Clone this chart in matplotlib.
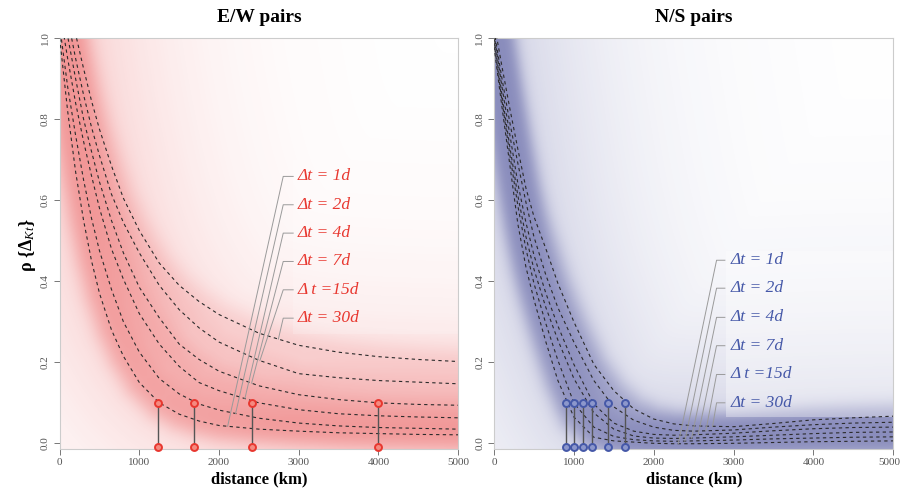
import numpy as np
import matplotlib
matplotlib.use('Agg')
import matplotlib.pyplot as plt
import matplotlib.transforms as mtransforms

plt.rcParams['font.family'] = ['Liberation Serif', 'DejaVu Serif']
plt.rcParams['mathtext.fontset'] = 'custom'
plt.rcParams['mathtext.rm'] = 'Liberation Serif'
plt.rcParams['mathtext.it'] = 'Liberation Serif:italic'
plt.rcParams['mathtext.bf'] = 'Liberation Serif:bold'

# ---- data ----
lags = ['1d', '2d', '4d', '7d', '15d', '30d']
lag_labels = ['Δt = 1d', 'Δt = 2d', 'Δt = 4d', 'Δt = 7d', 'Δ t =15d', 'Δt = 30d']

# E/W pairs
ew_dist = [0, 100, 200, 300, 400, 500, 650, 800, 1000, 1250, 1500, 1750, 2000, 2500, 3000, 3500, 4000, 4500, 5000]
ew_1d = [1.00, 0.82, 0.67, 0.55, 0.45, 0.37, 0.28, 0.215, 0.15, 0.10, 0.072, 0.055, 0.044, 0.035, 0.030, 0.026, 0.024, 0.022, 0.021]
ew_2d = [1.03, 0.88, 0.76, 0.65, 0.555, 0.475, 0.38, 0.30, 0.225, 0.16, 0.122, 0.097, 0.082, 0.062, 0.050, 0.043, 0.039, 0.037, 0.035]
ew_4d = [1.07, 0.95, 0.84, 0.745, 0.66, 0.58, 0.48, 0.405, 0.32, 0.245, 0.19, 0.15, 0.13, 0.10, 0.083, 0.073, 0.068, 0.065, 0.063]
ew_7d = [1.12, 1.005, 0.90, 0.80, 0.72, 0.645, 0.55, 0.47, 0.385, 0.31, 0.245, 0.207, 0.178, 0.142, 0.12, 0.108, 0.100, 0.096, 0.094]
ew_15d = [1.17, 1.05, 0.95, 0.86, 0.78, 0.71, 0.615, 0.545, 0.47, 0.39, 0.33, 0.285, 0.25, 0.205, 0.172, 0.162, 0.155, 0.151, 0.147]
ew_30d = [1.24, 1.11, 1.01, 0.925, 0.845, 0.775, 0.685, 0.605, 0.525, 0.445, 0.39, 0.35, 0.318, 0.272, 0.242, 0.225, 0.214, 0.207, 0.202]
ew_marks = [1230, 1690, 2410, 3990]          # distance where rho drops to 0.1
ew_leader_to = [2108, 2208, 2325, 2409, 2513, 2745]

# N/S pairs
ns_dist = [0, 100, 200, 300, 400, 500, 650, 800, 1000, 1250, 1500, 1750, 2000, 2250, 2500, 3000, 3500, 4000, 4500, 5000]
ns_1d = [0.98, 0.83, 0.685, 0.54, 0.435, 0.355, 0.25, 0.155, 0.065, 0.015, 0.006, 0.003, 0.0, -0.001, -0.001, 0.0, 0.002, 0.004, 0.005, 0.006]
ns_2d = [0.99, 0.845, 0.71, 0.585, 0.48, 0.395, 0.295, 0.205, 0.10, 0.04, 0.017, 0.009, 0.006, 0.005, 0.006, 0.008, 0.011, 0.013, 0.015, 0.016]
ns_4d = [1.00, 0.86, 0.73, 0.61, 0.51, 0.43, 0.335, 0.255, 0.16, 0.075, 0.035, 0.018, 0.013, 0.012, 0.013, 0.016, 0.020, 0.024, 0.027, 0.028]
ns_7d = [1.01, 0.88, 0.76, 0.64, 0.545, 0.465, 0.37, 0.29, 0.195, 0.097, 0.05, 0.03, 0.022, 0.020, 0.021, 0.025, 0.031, 0.036, 0.039, 0.040]
ns_15d = [1.02, 0.90, 0.79, 0.69, 0.595, 0.51, 0.415, 0.335, 0.25, 0.155, 0.09, 0.057, 0.04, 0.032, 0.030, 0.033, 0.040, 0.046, 0.050, 0.052]
ns_30d = [1.04, 0.93, 0.825, 0.725, 0.63, 0.56, 0.48, 0.395, 0.30, 0.195, 0.13, 0.085, 0.06, 0.048, 0.043, 0.041, 0.049, 0.058, 0.063, 0.067]
ns_marks = [901, 1005, 1118, 1231, 1431, 1643]
ns_leader_to = [2307, 2390, 2474, 2557, 2653, 2737]

YMIN, YMAX = -0.0128, 1.0
XMAX = 5000


def shade(ax, dist, curves, weights, rgb, amax, sigma, tail_w, tail_px):
    # soft band around the curves; true distance in screen pixels
    xpx = 398.0 / XMAX
    ypx = 405.0
    gx = np.linspace(0, XMAX, 200)
    gy = np.linspace(YMIN, YMAX, 206)
    GX, GY = np.meshgrid(gx * xpx, gy * ypx)
    pts = np.stack([GX.ravel(), GY.ravel()], axis=1)
    A = np.zeros(len(pts))
    for c, w in zip(curves, weights):
        sx = np.linspace(0, XMAX, 600)
        sy = np.interp(sx, dist, c)
        P = np.stack([sx * xpx, sy * ypx], axis=1)
        dmin = np.full(len(pts), 1e9)
        for k in range(0, len(P), 100):
            seg = P[k:k + 100]
            d2 = ((pts[:, None, :] - seg[None, :, :]) ** 2).sum(-1)
            dmin = np.minimum(dmin, d2.min(1))
        d = np.sqrt(dmin)
        A += w * np.exp(-0.5 * (d / sigma) ** 2) + tail_w * w * np.exp(-d / tail_px)
    A = A.reshape(GX.shape)
    alpha = amax * (1 - np.exp(-A))
    img = np.zeros(A.shape + (4,))
    img[..., 0], img[..., 1], img[..., 2] = rgb
    img[..., 3] = alpha
    ax.imshow(img, extent=[0, XMAX, YMIN, YMAX], origin='lower', aspect='auto',
              interpolation='bilinear', zorder=0)


def panel(ax, dist, curves, marks, leader_to, text_x, stub, label_y,
          col, light, shade_rgb, weights, amax, sigma, tail_w, tail_px, box):
    shade(ax, dist, curves, weights, shade_rgb, amax, sigma, tail_w, tail_px)
    for c in curves:
        ax.plot(dist, c, color='#2b2b2b', lw=0.8, dashes=(3, 3), zorder=3)
    for m in marks:
        ax.plot([m, m], [0.1, -0.01], color='#555555', lw=1.0, zorder=4)
        ax.plot([m, m], [0.1, -0.01], 'o', ms=5, mfc=light, mec=col, mew=1.4,
                zorder=5, clip_on=False)
    ax.add_patch(plt.Rectangle((box[0], box[1]), box[2], box[3], facecolor='white',
                               edgecolor='none', alpha=box[4], zorder=2))
    for lab, ly, tx, c in zip(lag_labels, label_y, leader_to, curves):
        ty = np.interp(tx, dist, c)
        ax.plot([stub[1], stub[0], tx], [ly, ly, ty], color='#9a9a9a', lw=0.7, zorder=3)
        ax.text(text_x, ly, lab, color=col, fontsize=12.5, style='italic',
                va='center', ha='left', zorder=6)
    ax.set_xlim(0, XMAX)
    ax.set_ylim(YMIN, YMAX)
    ax.set_xticks([0, 1000, 2000, 3000, 4000, 5000])
    ax.set_yticks([0, 0.2, 0.4, 0.6, 0.8, 1.0])
    ax.set_yticklabels(['0.0', '0.2', '0.4', '0.6', '0.8', '1.0'], rotation=90, va='center')
    ax.tick_params(colors='#777777', labelcolor='#555555', labelsize=8, length=4,
                   width=0.7, pad=3)
    for s in ax.spines.values():
        s.set_color('#cccccc')
        s.set_linewidth(0.8)


fig = plt.figure(figsize=(9.02, 4.91), dpi=100)
W, H = 902.0, 491.0
axL = fig.add_axes([59.7 / W, 1 - 448.5 / H, 398.3 / W, 410.2 / H])
axR = fig.add_axes([494.0 / W, 1 - 448.5 / H, 399.3 / W, 410.2 / H])

panel(axL, ew_dist, [ew_1d, ew_2d, ew_4d, ew_7d, ew_15d, ew_30d],
      ew_marks, ew_leader_to, 2990, (2806, 2931),
      [0.659, 0.589, 0.519, 0.449, 0.379, 0.309], '#e8372f', '#f58a80',
      (0.90, 0.22, 0.22), [1.0, 0.85, 0.65, 0.5, 0.35, 0.25], 0.55, 11.0, 0.18, 80.0,
      (2930, 0.27, 2070, 0.43, 0.18))
panel(axR, ns_dist, [ns_1d, ns_2d, ns_4d, ns_7d, ns_15d, ns_30d],
      ns_marks, ns_leader_to, 2960, (2787, 2891),
      [0.452, 0.383, 0.311, 0.241, 0.170, 0.100], '#4558a8', '#8c97cc',
      (0.22, 0.24, 0.56), [0.9, 0.85, 0.8, 0.7, 0.6, 0.55], 0.6, 10.0, 0.12, 90.0,
      (2900, 0.065, 2100, 0.41, 0.35))

# keep the last x tick label of the right panel inside the picture
last = axR.get_xticklabels()[-1]
last.set_transform(last.get_transform() +
                   mtransforms.ScaledTranslation(-4 / 100, 0, fig.dpi_scale_trans))

fig.text(259 / W, 1 - 18 / H, 'E/W pairs', ha='center', va='center', fontsize=14, fontweight='bold')
fig.text(694 / W, 1 - 18 / H, 'N/S pairs', ha='center', va='center', fontsize=14, fontweight='bold')
fig.text(259 / W, 1 - 479 / H, 'distance (km)', ha='center', va='center', fontsize=12, fontweight='bold')
fig.text(694 / W, 1 - 479 / H, 'distance (km)', ha='center', va='center', fontsize=12, fontweight='bold')
fig.text(27 / W, 1 - 245 / H, 'ρ {Δ$_{Kt}$}', ha='center', va='center',
         fontsize=13, fontweight='bold', rotation=90)

fig.savefig('out.png', dpi=100)
